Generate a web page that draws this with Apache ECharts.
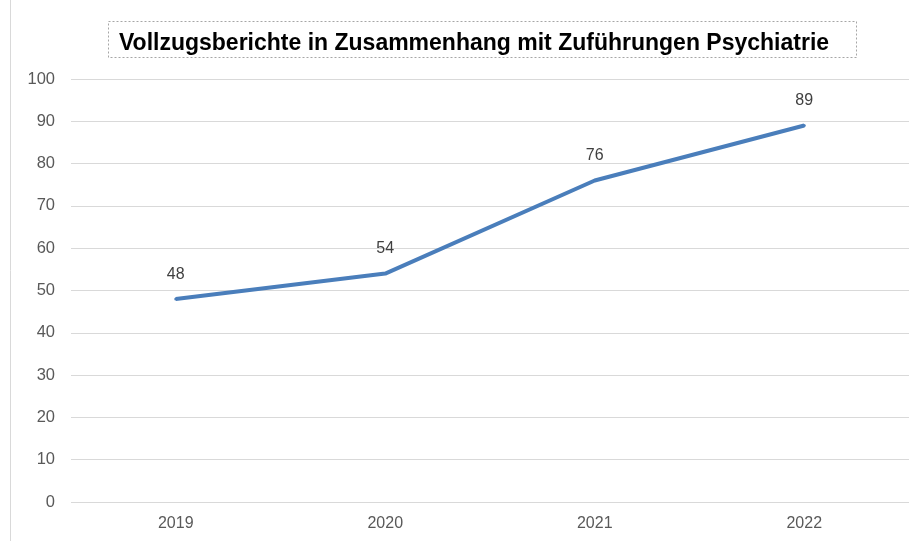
<!DOCTYPE html>
<html><head><meta charset="utf-8">
<script src="https://cdn.jsdelivr.net/npm/echarts@6/dist/echarts.min.js"></script>
<style>html,body{margin:0;padding:0;background:#fff}#c{width:918px;height:541px}</style>
</head><body><div id="c"></div>
<script>
const titleText = 'Vollzugsberichte in Zusammenhang mit Zuführungen Psychiatrie';
const categories = ['2019', '2020', '2021', '2022'];
const values = [48, 54, 76, 89];
const yMin = 0, yMax = 100, yInterval = 10;

const chart = echarts.init(document.getElementById('c'));
chart.setOption({
  animation: false,
  backgroundColor: '#ffffff',
  title: {
    text: titleText,
    left: 469, top: 27, textAlign: 'center',
    textStyle: { fontFamily: 'Liberation Sans, Arial', fontWeight: 'bold', fontSize: 23, color: '#000000' }
  },
  graphic: [
    { type: 'rect', shape: { x: 108.5, y: 21.5, width: 748, height: 36 },
      style: { fill: 'none', stroke: '#a6a6a6', lineWidth: 1, lineDash: [2, 2] } },
    { type: 'line', shape: { x1: 10.5, y1: 0, x2: 10.5, y2: 541 },
      style: { stroke: '#d9d9d9', lineWidth: 1 } }
  ],
  grid: { left: 71, right: 9, top: 79, bottom: 39, containLabel: false },
  xAxis: {
    type: 'category', data: categories, boundaryGap: true,
    axisLine: { show: false }, axisTick: { show: false },
    axisLabel: { color: '#595959', fontSize: 16, fontFamily: 'Liberation Sans, Arial', margin: 14 }
  },
  yAxis: {
    type: 'value', min: yMin, max: yMax, interval: yInterval,
    axisLine: { show: false }, axisTick: { show: false },
    axisLabel: { color: '#595959', fontSize: 16.5, fontFamily: 'Liberation Sans, Arial', margin: 16 },
    splitLine: { lineStyle: { color: '#d9d9d9', width: 1 } }
  },
  series: [{
    type: 'line', data: values, symbol: 'circle', symbolSize: 3, showSymbol: true,
    itemStyle: { color: '#4a7ebb' },
    lineStyle: { color: '#4a7ebb', width: 4 },
    label: { show: true, position: 'top', distance: 15, color: '#404040', fontSize: 16, fontFamily: 'Liberation Sans, Arial' }
  }]
});
</script></body></html>
